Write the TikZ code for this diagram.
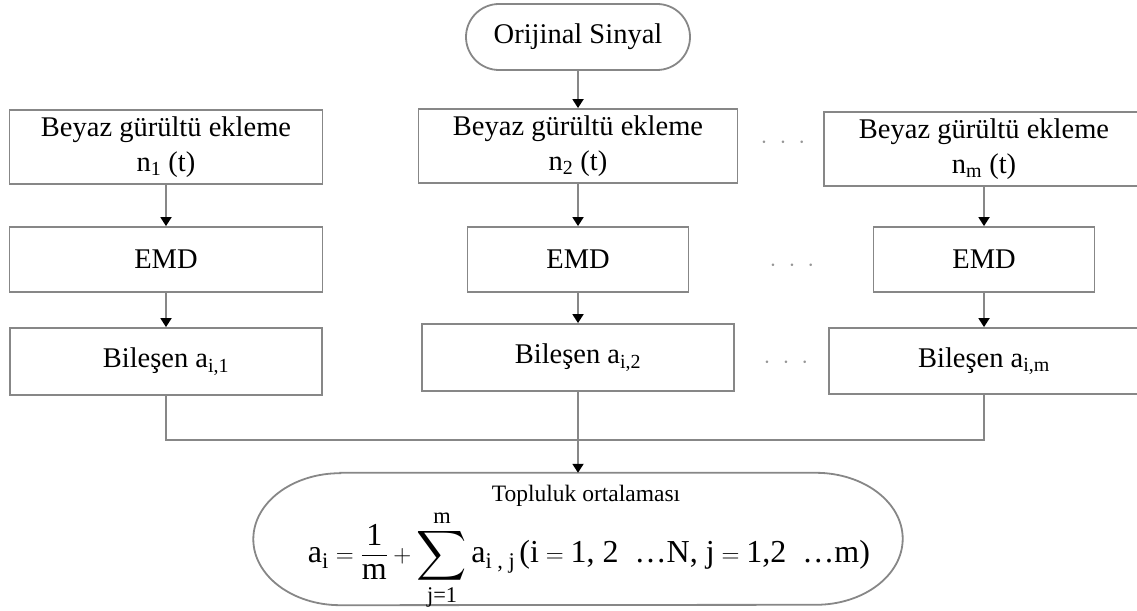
\documentclass[tikz,border=0pt]{standalone}
\usepackage{fontspec}
\setmainfont{Liberation Serif}
\usepackage{amsmath}
\usepackage{graphicx}
\usetikzlibrary{shapes.misc, arrows.meta}
\definecolor{linegray}{RGB}{135, 135, 135}
\definecolor{dotgray}{RGB}{150, 150, 150}

\begin{document}
\begin{tikzpicture}[x=1pt, y=1pt,
    stepbox/.style={draw=linegray, line width=1.8pt, align=center, inner sep=0pt,
      font=\fontsize{28.5}{35}\selectfont},
    line/.style={draw=linegray, line width=1.8pt},
    arr/.style={line, -{Triangle[width=11pt, length=9pt, color=black]}},
    dotrow/.style={text=dotgray, font=\fontsize{30}{30}\selectfont}]
  \useasboundingbox (0,0) rectangle (1137,610);

  % start
  \node[stepbox, rounded rectangle, minimum width=224pt, minimum height=66pt] (orig) at (578, 573) {Orijinal Sinyal};

  % noise
  \node[stepbox, minimum width=313pt, minimum height=74pt] (noise1) at (166, 463) {Beyaz gürültü ekleme\\n\textsubscript{1} (t)};
  \node[stepbox, minimum width=319pt, minimum height=74pt] (noise2) at (578, 464) {Beyaz gürültü ekleme\\n\textsubscript{2} (t)};
  \node[stepbox, minimum width=320pt, minimum height=74pt] (noise3) at (984, 461) {Beyaz gürültü ekleme\\n\textsubscript{m} (t)};

  % EMD
  \node[stepbox, minimum width=313pt, minimum height=65pt] (emd1) at (166, 350.5) {EMD};
  \node[stepbox, minimum width=221pt, minimum height=65pt] (emd2) at (578, 350.5) {EMD};
  \node[stepbox, minimum width=221pt, minimum height=65pt] (emd3) at (984, 350.5) {EMD};

  % components
  \node[stepbox, minimum width=312pt, minimum height=67pt] (comp1) at (166, 248.5) {Bileşen a\textsubscript{i,1}};
  \node[stepbox, minimum width=312pt, minimum height=67pt] (comp2) at (578, 252.5) {Bileşen a\textsubscript{i,2}};
  \node[stepbox, minimum width=310pt, minimum height=66pt] (comp3) at (984, 249) {Bileşen a\textsubscript{i,m}};

  % dots between columns
  \node[dotrow] (dots1) at (783, 467) {$\cdot$\hspace{12pt}$\cdot$\hspace{12pt}$\cdot$};
  \node[dotrow] (dots2) at (792, 344) {$\cdot$\hspace{12pt}$\cdot$\hspace{12pt}$\cdot$};
  \node[dotrow] (dots3) at (786, 247) {$\cdot$\hspace{12pt}$\cdot$\hspace{12pt}$\cdot$};

  % ensemble average
  \node[minimum width=475pt, minimum height=132pt, inner sep=0pt] (avg) at (578, 71) {};
  \draw[line] (avg.north west) -- (avg.north east)
    arc[start angle=90, end angle=-90, x radius=87pt, y radius=66pt]
    -- (avg.south west)
    arc[start angle=270, end angle=90, x radius=87pt, y radius=66pt] -- cycle;
  \node[font=\fontsize{23.5}{26}\selectfont] (avgtitle) at (586, 114) {Topluluk ortalaması};
  \node[font=\fontsize{32}{38}\selectfont] (formula) at (589, 50)
    {$\text{a}_\text{i} = \dfrac{\text{1}}{\text{m}} + \mathop{\vcenter{\hbox{\scalebox{1.4}{$\displaystyle\sum$}}}}\limits_{\text{j=1}}^{\text{m}} \text{a}_{\text{i , j}}\,\text{(i} = \text{1, 2 \ \ldots N, j} = \text{1,2 \ \ldots m)}$};

  % arrows
  \draw[arr] (orig) -- (noise2);
  \draw[arr] (noise1) -- (emd1);
  \draw[arr] (noise2) -- (emd2);
  \draw[arr] (noise3) -- (emd3);
  \draw[arr] (emd1) -- (comp1);
  \draw[arr] (emd2) -- (comp2);
  \draw[arr] (emd3) -- (comp3);

  % merge
  \coordinate (merge) at (578, 170);
  \draw[line] (comp1.south) |- (merge) -| (comp3.south);
  \draw[arr] (comp2) -- (avg);
\end{tikzpicture}
\end{document}
